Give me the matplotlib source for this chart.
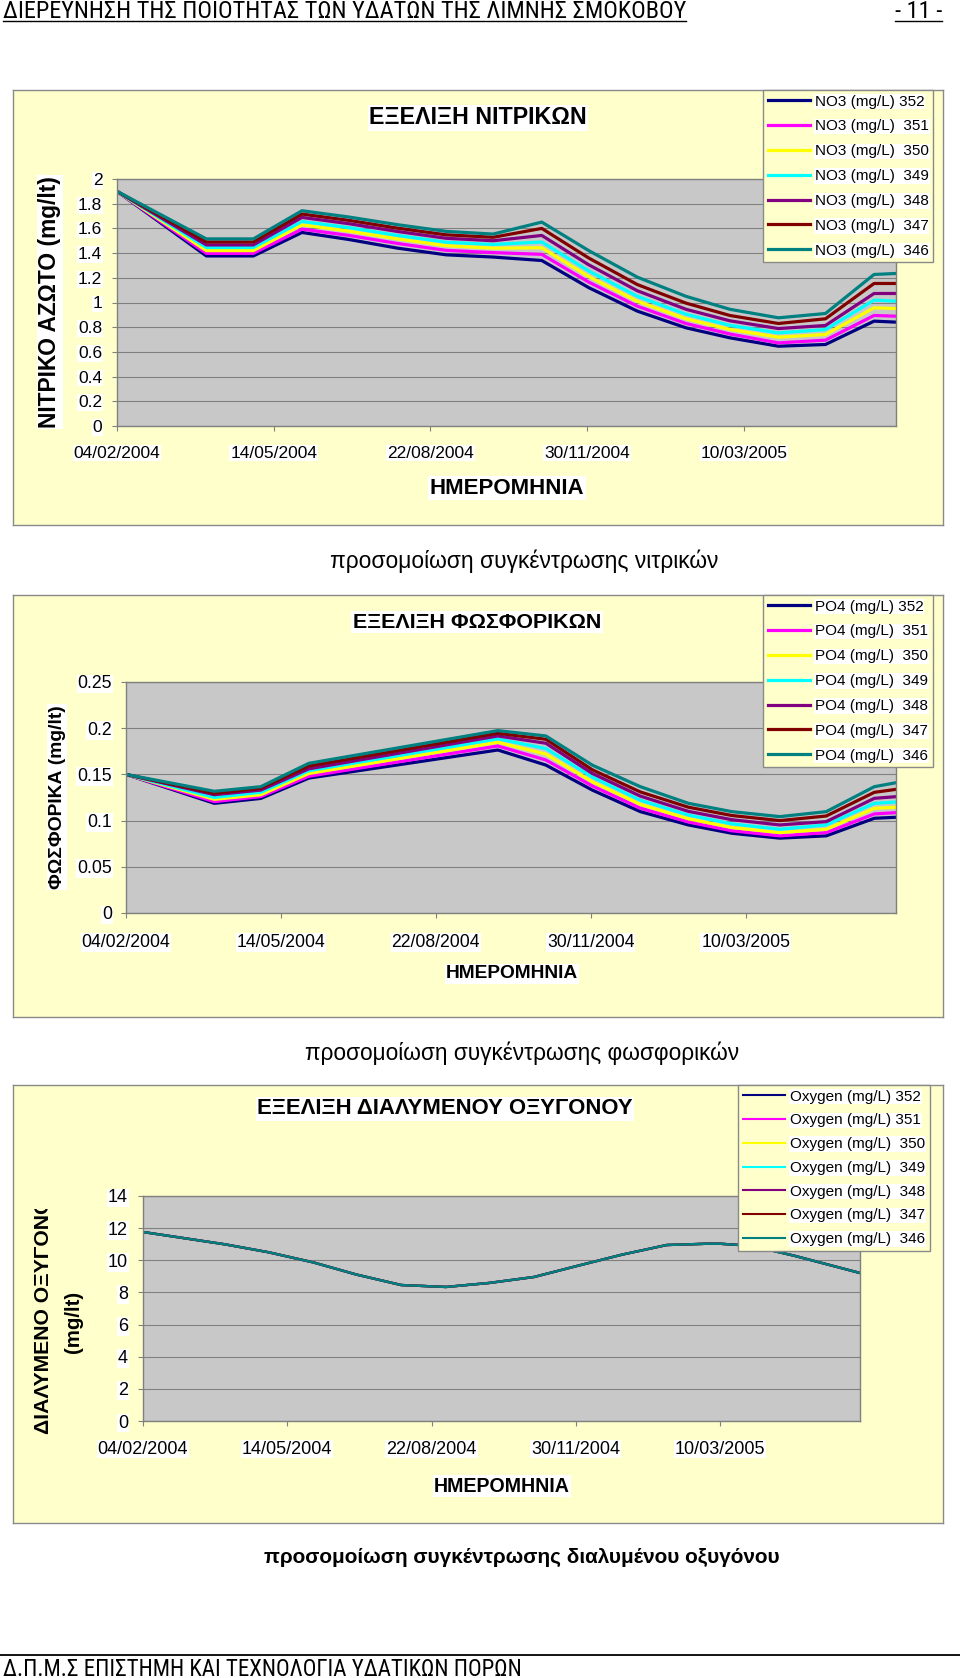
import numpy as np
import matplotlib
matplotlib.use("Agg")
import matplotlib.pyplot as plt
from matplotlib.lines import Line2D
from matplotlib.patches import Rectangle
from matplotlib import font_manager
import logging
logging.getLogger("matplotlib.font_manager").setLevel(logging.ERROR)

# ---------------- data ----------------
SERIES_IDS = ["352", "351", "350", "349", "348", "347", "346"]
SERIES_COLORS = ["#000080", "#FF00FF", "#FFFF00", "#00FFFF", "#800080", "#800000", "#008080"]

XTICK_DATES = ["2004-02-04", "2004-05-14", "2004-08-22", "2004-11-30", "2005-03-10"]
XTICK_LABELS = ["04/02/2004", "14/05/2004", "22/08/2004", "30/11/2004", "10/03/2005"]

# Nitrate (NO3, mg/L)
N_DATES = ["2004-02-04", "2004-04-01", "2004-05-01", "2004-06-01", "2004-07-01", "2004-08-01",
           "2004-09-01", "2004-10-01", "2004-11-01", "2004-12-01", "2005-01-01", "2005-02-01",
           "2005-03-01", "2005-04-01", "2005-05-01", "2005-06-01", "2005-06-15"]
N_352 = [1.90, 1.377, 1.377, 1.567, 1.510, 1.440, 1.386, 1.368, 1.340, 1.120, 0.930, 0.795, 0.714, 0.646, 0.660, 0.849, 0.841]
N_351 = [1.90, 1.398, 1.398, 1.594, 1.543, 1.478, 1.422, 1.404, 1.390, 1.165, 0.970, 0.830, 0.745, 0.673, 0.695, 0.895, 0.889]
N_350 = [1.90, 1.420, 1.420, 1.629, 1.578, 1.515, 1.460, 1.440, 1.443, 1.210, 1.010, 0.868, 0.782, 0.719, 0.741, 0.957, 0.951]
N_349 = [1.90, 1.445, 1.445, 1.656, 1.606, 1.543, 1.488, 1.470, 1.490, 1.255, 1.050, 0.905, 0.815, 0.754, 0.781, 1.019, 1.011]
N_348 = [1.90, 1.466, 1.466, 1.689, 1.638, 1.575, 1.520, 1.500, 1.543, 1.305, 1.095, 0.945, 0.852, 0.789, 0.814, 1.073, 1.073]
N_347 = [1.90, 1.490, 1.490, 1.716, 1.665, 1.602, 1.548, 1.528, 1.600, 1.360, 1.145, 0.995, 0.895, 0.830, 0.868, 1.154, 1.154]
N_346 = [1.90, 1.515, 1.515, 1.743, 1.692, 1.630, 1.576, 1.554, 1.651, 1.420, 1.205, 1.050, 0.945, 0.876, 0.911, 1.227, 1.235]
N_YTICKS = [0, 0.2, 0.4, 0.6, 0.8, 1, 1.2, 1.4, 1.6, 1.8, 2]
N_YLABELS = ["0", "0.2", "0.4", "0.6", "0.8", "1", "1.2", "1.4", "1.6", "1.8", "2"]
N_LEGEND = ["NO3 (mg/L) 352", "NO3 (mg/L)  351", "NO3 (mg/L)  350", "NO3 (mg/L)  349",
            "NO3 (mg/L)  348", "NO3 (mg/L)  347", "NO3 (mg/L)  346"]

# Phosphate (PO4, mg/L)
P_DATES = ["2004-02-04", "2004-04-01", "2004-05-01", "2004-06-01", "2004-10-01", "2004-11-01",
           "2004-12-01", "2005-01-01", "2005-02-01", "2005-03-01", "2005-04-01", "2005-05-01",
           "2005-06-01", "2005-06-15"]
P_352 = [0.150, 0.1187, 0.124, 0.146, 0.1764, 0.1601, 0.133, 0.1097, 0.0953, 0.0863, 0.081, 0.0835, 0.1025, 0.1036]
P_351 = [0.150, 0.1205, 0.126, 0.148, 0.1808, 0.1656, 0.1375, 0.1135, 0.0985, 0.089, 0.0835, 0.087, 0.1072, 0.1086]
P_350 = [0.150, 0.123, 0.128, 0.151, 0.1848, 0.172, 0.142, 0.1175, 0.102, 0.0925, 0.087, 0.0906, 0.1133, 0.1144]
P_349 = [0.150, 0.125, 0.1306, 0.154, 0.1884, 0.178, 0.147, 0.122, 0.106, 0.0965, 0.0906, 0.0953, 0.1187, 0.1201]
P_348 = [0.150, 0.128, 0.133, 0.156, 0.1916, 0.1837, 0.151, 0.1265, 0.110, 0.101, 0.0953, 0.0989, 0.1241, 0.1259]
P_347 = [0.150, 0.1295, 0.135, 0.159, 0.1945, 0.188, 0.155, 0.131, 0.1145, 0.1055, 0.100, 0.105, 0.1306, 0.1338]
P_346 = [0.150, 0.1317, 0.1367, 0.162, 0.1974, 0.1916, 0.160, 0.1367, 0.1187, 0.1097, 0.1043, 0.1097, 0.1367, 0.141]
P_YTICKS = [0, 0.05, 0.1, 0.15, 0.2, 0.25]
P_YLABELS = ["0", "0.05", "0.1", "0.15", "0.2", "0.25"]
P_LEGEND = ["PO4 (mg/L) 352", "PO4 (mg/L)  351", "PO4 (mg/L)  350", "PO4 (mg/L)  349",
            "PO4 (mg/L)  348", "PO4 (mg/L)  347", "PO4 (mg/L)  346"]

# Dissolved oxygen (mg/L) - all seven series coincide
O_DATES = ["2004-02-04", "2004-03-01", "2004-04-01", "2004-05-01", "2004-06-01", "2004-07-01",
           "2004-08-01", "2004-09-01", "2004-10-01", "2004-11-01", "2004-12-01", "2005-01-01",
           "2005-02-01", "2005-03-01", "2005-03-10", "2005-04-01", "2005-05-01", "2005-06-01",
           "2005-06-15"]
O_VALUES = [11.76, 11.41, 10.99, 10.50, 9.87, 9.11, 8.46, 8.34, 8.59, 8.96, 9.65, 10.35,
            10.95, 11.03, 11.03, 10.90, 10.27, 9.54, 9.21]
O_YTICKS = [0, 2, 4, 6, 8, 10, 12, 14]
O_YLABELS = ["0", "2", "4", "6", "8", "10", "12", "14"]
O_LEGEND = ["Oxygen (mg/L) 352", "Oxygen (mg/L) 351", "Oxygen (mg/L)  350", "Oxygen (mg/L)  349",
            "Oxygen (mg/L)  348", "Oxygen (mg/L)  347", "Oxygen (mg/L)  346"]

HEADER = "ΔΙΕΡΕΥΝΗΣΗ ΤΗΣ ΠΟΙΟΤΗΤΑΣ ΤΩΝ ΥΔΑΤΩΝ ΤΗΣ ΛΙΜΝΗΣ ΣΜΟΚΟΒΟΥ"
PAGE = "- 11 -"
FOOTER = "Δ.Π.Μ.Σ ΕΠΙΣΤΗΜΗ ΚΑΙ ΤΕΧΝΟΛΟΓΙΑ ΥΔΑΤΙΚΩΝ ΠΟΡΩΝ"
XLABEL = "ΗΜΕΡΟΜΗΝΙΑ"

# ---------------- layout ----------------
W, H = 960, 1678
plt.rcParams["font.family"] = ["Liberation Sans", "DejaVu Sans"]


def find_narrow():
    pref = ["Liberation Sans Narrow", "Arial Narrow", "DejaVu Sans Condensed", "Roboto Condensed",
            "Open Sans Condensed", "Noto Sans Condensed"]
    fonts = font_manager.fontManager.ttflist
    def ok(f):
        w = f.weight if isinstance(f.weight, int) else 400
        return f.style == "normal" and w <= 450
    for name in pref:
        for f in fonts:
            if f.name == name and ok(f):
                return font_manager.FontProperties(fname=f.fname)
    for f in fonts:
        if ok(f) and (f.stretch in ("condensed", "semi-condensed", "extra-condensed")
                      or "Narrow" in f.name or "Condensed" in f.name):
            if "Sans" in f.name or "Roboto" in f.name:
                return font_manager.FontProperties(fname=f.fname)
    return None


NARROW_FP = find_narrow()

fig = plt.figure(figsize=(W / 100, H / 100), dpi=100, facecolor="white")
renderer = fig.canvas.get_renderer()

BG = "#FFFFCC"
PLOT_BG = "#C8C8C8"
GRAY = "#8A8A8A"
WHITE_BOX = dict(facecolor="white", edgecolor="none", pad=1.0)


def rect(x0, y0, x1, y1):
    return [x0 / W, 1 - y1 / H, (x1 - x0) / W, (y1 - y0) / H]


def fx(x):
    return x / W


def fy(y):
    return 1 - y / H


def fit(t, target, vertical=False, max_fs=None):
    for _ in range(2):
        bb = t.get_window_extent(renderer)
        cur = bb.height if vertical else bb.width
        t.set_fontsize(t.get_fontsize() * target / cur)
    if max_fs is not None and t.get_fontsize() > max_fs:
        t.set_fontsize(max_fs)


def narrow_text(x, y, s, target, ha, max_fs, fs=None):
    if NARROW_FP is not None:
        t = fig.text(fx(x), fy(y), s, ha=ha, va="baseline", fontproperties=NARROW_FP)
    else:
        t = fig.text(fx(x), fy(y), s, ha=ha, va="baseline")
    t.set_fontsize(16)
    if fs is None:
        fit(t, target, max_fs=max_fs)
    else:
        t.set_fontsize(fs)
    return t


def build(frame, plot, dates, series, labels, yticks, ylabels, tick_fs, lw,
          leg_xy, leg_lw, leg_spacing, ypad, xpad):
    bg = fig.add_axes(rect(*frame), zorder=0)
    bg.set_facecolor(BG)
    bg.set_xticks([])
    bg.set_yticks([])
    for s in bg.spines.values():
        s.set_color(GRAY)
        s.set_linewidth(1.0)

    ax = fig.add_axes(rect(*plot), zorder=1)
    ax.set_facecolor(PLOT_BG)
    d = np.array(dates, dtype="datetime64[D]")
    for vals, lab, col in zip(series, labels, SERIES_COLORS):
        ax.plot(d, vals, color=col, lw=lw, label=lab, solid_joinstyle="round")
    ax.set_xlim(d[0], d[-1])
    ax.set_ylim(yticks[0], yticks[-1])
    ax.set_yticks(yticks, ylabels)
    ax.set_xticks(np.array(XTICK_DATES, dtype="datetime64[D]"), XTICK_LABELS)
    ax.yaxis.grid(True, color="#808080", lw=0.8)
    ax.set_axisbelow(True)
    ax.tick_params(axis="both", direction="out", length=3.6, width=0.8, color="#808080",
                   labelsize=tick_fs, labelcolor="black")
    ax.tick_params(axis="y", pad=ypad)
    ax.tick_params(axis="x", pad=xpad)
    for s in ax.spines.values():
        s.set_color("#808080")
        s.set_linewidth(1.0)
    for lbl in ax.get_xticklabels() + ax.get_yticklabels():
        lbl.set_bbox(dict(facecolor="white", edgecolor="none", pad=0.6))

    leg = ax.legend(loc="upper left", bbox_to_anchor=(fx(leg_xy[0]), fy(leg_xy[1])),
                    bbox_transform=fig.transFigure, borderaxespad=0, frameon=True,
                    fancybox=False, framealpha=1, facecolor=BG, edgecolor=GRAY,
                    fontsize=11, handlelength=2.8, handletextpad=0.3,
                    labelspacing=leg_spacing, borderpad=0.3)
    leg.get_frame().set_linewidth(1.0)
    for ln in leg.get_lines():
        ln.set_linewidth(leg_lw)
    for t in leg.get_texts():
        t.set_bbox(dict(facecolor="white", edgecolor="none", pad=0.5))
    return ax


# ---- chart 1: nitrate ----
build((13, 90, 943, 525), (117, 179, 896, 426), N_DATES,
      [N_352, N_351, N_350, N_349, N_348, N_347, N_346], N_LEGEND,
      N_YTICKS, N_YLABELS, 12.5, 2.3, (763, 90), 2.3, 0.71, 7.0, 10.5)
t = fig.text(fx(478), fy(118), "ΕΞΕΛΙΞΗ ΝΙΤΡΙΚΩΝ", ha="center", va="center",
             fontsize=16, fontweight="bold", bbox=WHITE_BOX)
fit(t, 218)
t = fig.text(fx(507), fy(488), XLABEL, ha="center", va="center", fontsize=16,
             fontweight="bold", bbox=WHITE_BOX)
fit(t, 155)
t = fig.text(fx(50), fy(302), "ΝΙΤΡΙΚΟ ΑΖΩΤΟ (mg/lt)", ha="center", va="center",
             rotation=90, fontsize=16, fontweight="bold", bbox=WHITE_BOX)
fit(t, 252, vertical=True)
t = fig.text(fx(524), fy(561), "προσομοίωση συγκέντρωσης νιτρικών", ha="center",
             va="center", fontsize=15)
fit(t, 387)

# ---- chart 2: phosphate ----
build((13, 595, 943, 1017), (126, 682, 896, 913), P_DATES,
      [P_352, P_351, P_350, P_349, P_348, P_347, P_346], P_LEGEND,
      P_YTICKS, P_YLABELS, 12.7, 2.3, (763, 595), 2.3, 0.71, 6.5, 11.3)
t = fig.text(fx(477), fy(622), "ΕΞΕΛΙΞΗ ΦΩΣΦΟΡΙΚΩΝ", ha="center", va="center",
             fontsize=15, fontweight="bold", bbox=WHITE_BOX)
fit(t, 247)
t = fig.text(fx(512), fy(974), XLABEL, ha="center", va="center", fontsize=14,
             fontweight="bold", bbox=WHITE_BOX)
fit(t, 132)
t = fig.text(fx(57), fy(797), "ΦΩΣΦΟΡΙΚΑ (mg/lt)", ha="center", va="center",
             rotation=90, fontsize=14, fontweight="bold", bbox=WHITE_BOX)
fit(t, 183, vertical=True)
t = fig.text(fx(522), fy(1053), "προσομοίωση συγκέντρωσης φωσφορικών", ha="center",
             va="center", fontsize=15)
fit(t, 435)

# ---- chart 3: dissolved oxygen ----
build((13, 1085, 943, 1523), (143, 1196, 860, 1421), O_DATES,
      [O_VALUES] * 7, O_LEGEND,
      O_YTICKS, O_YLABELS, 13, 1.7, (738, 1085), 1.5, 0.64, 7.2, 10.5)
t = fig.text(fx(445), fy(1109), "ΕΞΕΛΙΞΗ ΔΙΑΛΥΜΕΝΟΥ ΟΞΥΓΟΝΟΥ", ha="center", va="center",
             fontsize=16, fontweight="bold", bbox=WHITE_BOX)
fit(t, 376)
t = fig.text(fx(502), fy(1486), XLABEL, ha="center", va="center", fontsize=14,
             fontweight="bold", bbox=WHITE_BOX)
fit(t, 136)
clip = Rectangle((0, fy(1523)), 0.2, fy(1209) - fy(1523), transform=fig.transFigure)
t = fig.text(fx(44), fy(1434), "ΔΙΑΛΥΜΕΝΟ ΟΞΥΓΟΝΟ", ha="center", va="bottom",
             rotation=90, fontsize=15.2, fontweight="bold")
t.set_clip_path(clip)
t.set_clip_on(True)
t = fig.text(fx(73), fy(1322), "(mg/lt)", ha="center", va="center",
             rotation=90, fontsize=14, fontweight="bold")
fit(t, 62, vertical=True)
t = fig.text(fx(522), fy(1557), "προσομοίωση συγκέντρωσης διαλυμένου οξυγόνου", ha="center",
             va="center", fontsize=14, fontweight="bold")
fit(t, 515)

# ---- page header / footer ----
hdr = narrow_text(3, 18, HEADER, 698, "left", max_fs=17.5)
hb = hdr.get_window_extent(renderer)
fig.add_artist(Line2D([fx(3), hb.x1 / W], [fy(20.5), fy(20.5)], transform=fig.transFigure,
                      color="black", lw=1.0))
pg = narrow_text(942, 18, PAGE, 35, "right", max_fs=None, fs=hdr.get_fontsize())
pb = pg.get_window_extent(renderer)
fig.add_artist(Line2D([pb.x0 / W, fx(942)], [fy(20.5), fy(20.5)], transform=fig.transFigure,
                      color="black", lw=1.0))
fig.add_artist(Line2D([0, 1], [fy(1655), fy(1655)], transform=fig.transFigure,
                      color="black", lw=1.3))
narrow_text(3, 1676, FOOTER, 556, "left", max_fs=16.5)

fig.savefig("out.png", dpi=100, facecolor="white")
